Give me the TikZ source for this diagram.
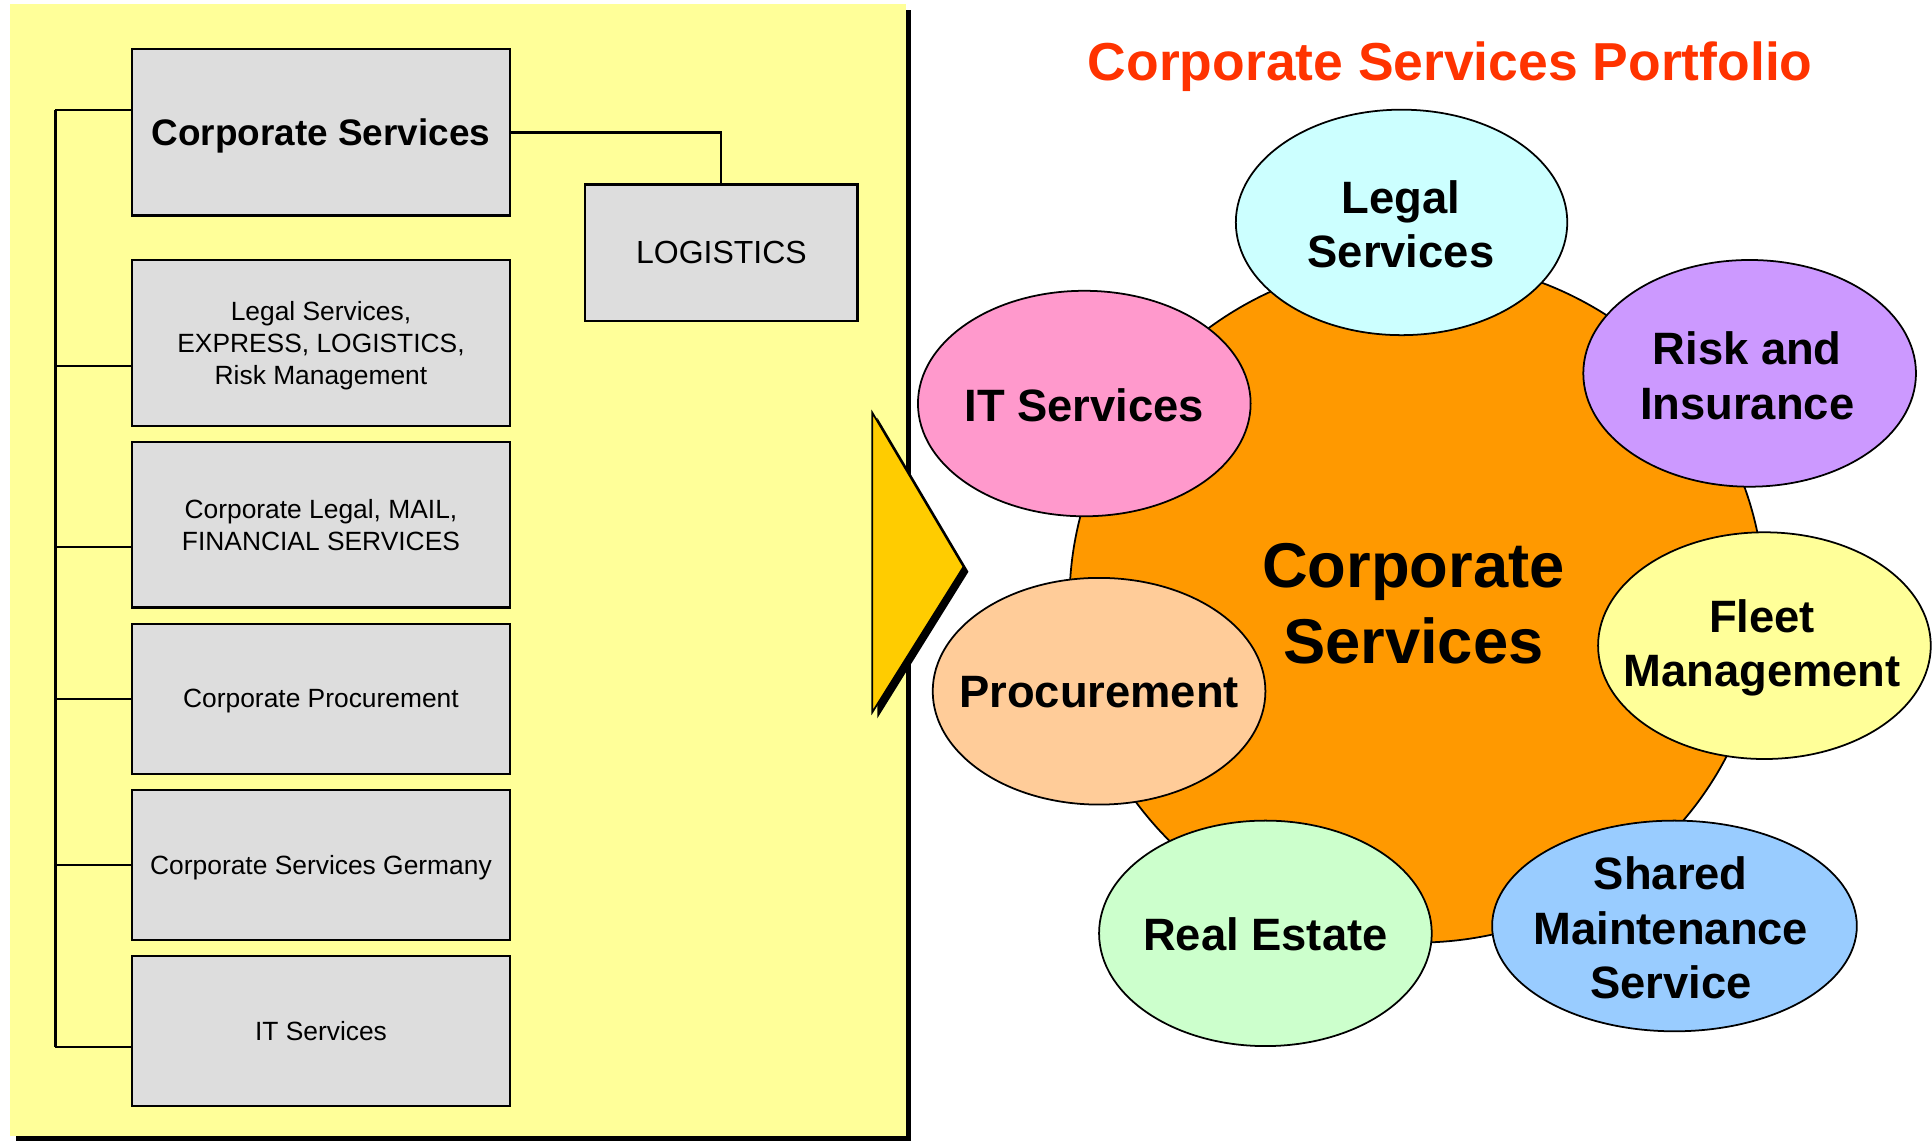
\documentclass[tikz,border=0pt]{standalone}
\usepackage{fontspec}
\setmainfont{Liberation Sans}
\usetikzlibrary{calc}
\definecolor{panel}{HTML}{FFFF99}
\definecolor{boxgray}{HTML}{DDDDDD}
\definecolor{arrowc}{HTML}{FFCC00}
\definecolor{hub}{HTML}{FF9900}
\definecolor{titlec}{HTML}{FF3300}
\definecolor{cLegal}{HTML}{CCFFFF}
\definecolor{cRisk}{HTML}{CC99FF}
\definecolor{cIT}{HTML}{FF99CC}
\definecolor{cFleet}{HTML}{FFFF99}
\definecolor{cProc}{HTML}{FFCC99}
\definecolor{cEstate}{HTML}{CCFFCC}
\definecolor{cShared}{HTML}{99CCFF}

\begin{document}
\begin{tikzpicture}[x=0.012321cm,y=-0.012321cm]
		\tikzstyle{orgbox}=[draw,line width=0.6pt,fill=boxgray,inner sep=0pt,outer sep=0pt,minimum width=3.78cm,align=center,text depth=0pt,font=\fontsize{7.5}{9.1}\selectfont]
		\tikzstyle{bub}=[draw,line width=0.5pt]
		\tikzstyle{bubtext}=[align=center,font=\fontsize{12.9}{15.4}\selectfont\bfseries]
		\tikzstyle{wire}=[line width=0.6pt]
		%% page
		\useasboundingbox (0,0) rectangle (1568,926);
		\fill[white] (0,0) rectangle (1568,926);
		%% yellow panel with shadow
		\fill[black] (13,8) rectangle (739,926);
		\fill[panel] (8,3) rectangle (735,922);
		%% org chart
		\node[orgbox,minimum height=1.66cm,font=\fontsize{10.5}{12.6}\selectfont\bfseries] (cs) at (260.5,107.5) {Corporate Services};
		\node[orgbox,minimum height=1.66cm] (b2) at (260.5,278.5) {Legal Services,\\EXPRESS, LOGISTICS,\\Risk Management};
		\node[orgbox,minimum height=1.65cm] (b3) at (260.5,426) {Corporate Legal, MAIL,\\FINANCIAL SERVICES};
		\node[orgbox,minimum height=1.50cm] (b4) at (260.5,567) {Corporate Procurement};
		\node[orgbox,minimum height=1.50cm] (b5) at (260.5,702) {Corporate Services Germany};
		\node[orgbox,minimum height=1.50cm] (b6) at (260.5,837) {IT Services};
		\node[orgbox,minimum width=2.72cm,minimum height=1.36cm,font=\fontsize{9.1}{11}\selectfont] (logi) at (585.5,205) {LOGISTICS};
		%% wires
		\coordinate (bustop) at (45,89);
		\coordinate (busbot) at (45,850);
		\draw[wire] (bustop) -- (busbot);
		\foreach \n/\y in {cs/89,b2/297,b3/444,b4/567,b5/702,b6/850}
			\draw[wire] (\n.west |- 0,\y) -- (bustop |- 0,\y);
		\draw[wire] (cs.east) -| (logi.north);
		%% arrow
		\fill[black] (712,339) -- (786,464) -- (712,583) -- cycle;
		\draw[fill=arrowc,line width=0.5pt,line join=miter] (708,335) -- (782,460) -- (708,578) -- cycle;
		%% title
		\node[text=titlec,font=\fontsize{15.2}{18}\selectfont\bfseries,anchor=base] (title) at (1177,65) {Corporate Services Portfolio};
		%% hub
		\draw[bub,fill=hub] (1150,488) ellipse [x radius=282, y radius=277];
		\node[align=center,font=\fontsize{18}{21.7}\selectfont\bfseries] (core) at (1147,490) {Corporate\\Services};
		%% bubbles
		\draw[bub,fill=cLegal]  (1137.5,180.5) ellipse [x radius=134.5, y radius=91.5];
		\draw[bub,fill=cRisk]   (1420,303)     ellipse [x radius=135,   y radius=92];
		\draw[bub,fill=cIT]     (880,327.5)    ellipse [x radius=135,   y radius=91.5];
		\draw[bub,fill=cFleet]  (1432,524)     ellipse [x radius=135,   y radius=92];
		\draw[bub,fill=cProc]   (892,561)      ellipse [x radius=135,   y radius=92];
		\draw[bub,fill=cEstate] (1027,757.5)   ellipse [x radius=135,   y radius=91.5];
		\draw[bub,fill=cShared] (1359,751.5)   ellipse [x radius=148,   y radius=85.5];
		\node[bubtext] (legal)  at (1137,182) {Legal\\Services};
		\node[bubtext] (risk)   at (1418,305) {Risk and\\Insurance};
		\node[bubtext] (it)     at (880,329)  {IT Services};
		\node[bubtext] (fleet)  at (1430,526) {Fleet\\Management};
		\node[bubtext] (proc)   at (892,562)  {Procurement};
		\node[bubtext] (estate) at (1027,758) {Real Estate};
		\node[bubtext] (shared) at (1356,753) {Shared\\Maintenance\\Service};
	\end{tikzpicture}
\end{document}
